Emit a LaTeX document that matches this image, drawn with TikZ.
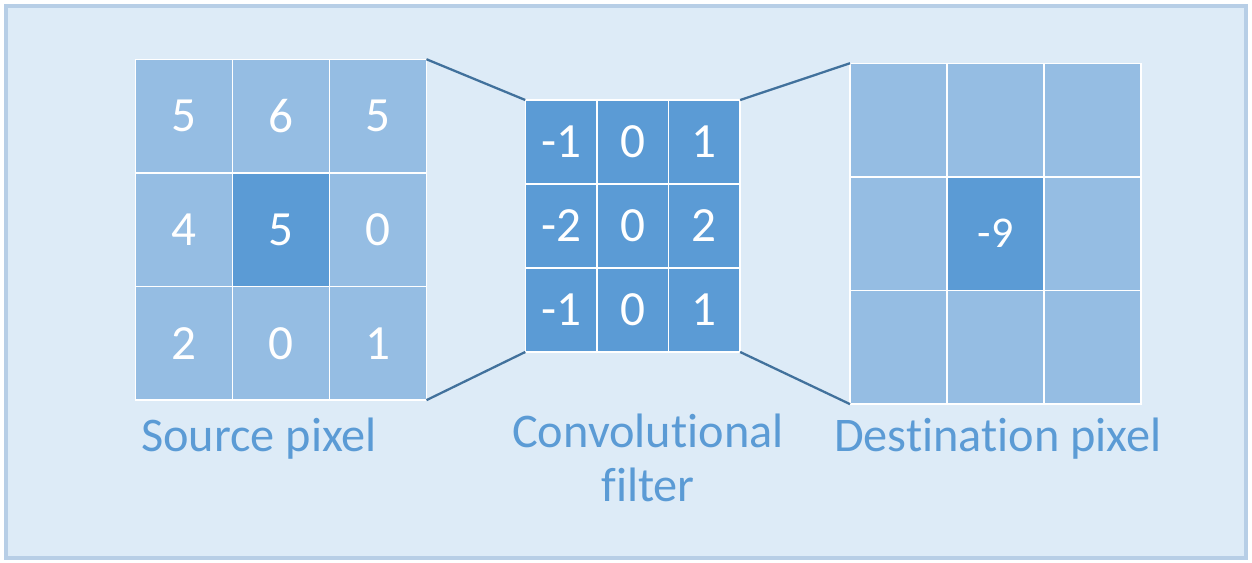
\documentclass[tikz,border=0pt]{standalone}
\usepackage{fontspec}
\setmainfont{Carlito}[Ligatures={NoCommon}]
\usepackage{xcolor}
\usepackage{tikz}
\usetikzlibrary{shadows}

\definecolor{paleblue}{HTML}{DDEBF7}
\definecolor{edgeblue}{HTML}{B7CEE6}
\definecolor{lightcell}{HTML}{95BDE3}
\definecolor{darkcell}{HTML}{5B9BD5}
\definecolor{linkblue}{HTML}{41719C}

\tikzset{
    frame/.style={fill=paleblue, draw=edgeblue, line width=2.5pt},
    cell/.style={draw=white, line width=0.8pt, inner sep=0pt, outer sep=0pt,
        text=white, font=\fontsize{28}{30}\selectfont},
    srccell/.style={cell, minimum width=1.94cm, minimum height=2.27cm},
    fltcell/.style={cell, fill=darkcell, minimum width=1.43cm, minimum height=1.68cm},
    link/.style={draw=linkblue, line width=1.3pt},
    caption/.style={text=darkcell, font=\fontsize{27.5}{31}\selectfont, align=center}
}

\begin{document}
\begin{tikzpicture}[x=0.02cm, y=-0.02cm]
                \useasboundingbox (0,0) rectangle (1252,563);

                % Draw the outer panel
                \draw[frame] (6,6) rectangle (1246,558);

                % Draw the source pixel grid
                \foreach \r/\c/\v/\f in {1/1/5/lightcell, 1/2/6/lightcell, 1/3/5/lightcell,
                                         2/1/4/lightcell, 2/2/5/darkcell,  2/3/0/lightcell,
                                         3/1/2/lightcell, 3/2/0/lightcell, 3/3/1/lightcell}
                    \node[srccell, fill=\f] (S\r\c) at ({184+(\c-1)*97}, {116+(\r-1)*113.7}) {\v};

                % Draw the convolutional filter grid
                \foreach \r/\c/\v in {1/1/-1, 1/2/0, 1/3/1,
                                      2/1/-2, 2/2/0, 2/3/2,
                                      3/1/-1, 3/2/0, 3/3/1}
                    \node[fltcell] (F\r\c) at ({561+(\c-1)*71.7}, {142+(\r-1)*84}) {\v};

                % Draw the destination pixel grid
                \foreach \r/\c/\v/\f in {1/1//lightcell, 1/2//lightcell, 1/3//lightcell,
                                         2/1//lightcell, 2/2/-9/darkcell, 2/3//lightcell,
                                         3/1//lightcell, 3/2//lightcell, 3/3//lightcell}
                    \node[srccell, fill=\f, font=\fontsize{25}{28}\selectfont] (D\r\c) at ({898.5+(\c-1)*97}, {120+(\r-1)*113.7}) {\v};

                % Connect the grids
                \draw[link] (S13.north east) -- (F11.north west);
                \draw[link] (S33.south east) -- (F31.south west);
                \draw[link] (F13.north east) -- (D11.north west);
                \draw[link] (F33.south east) -- (D31.south west);

                % Captions under the grids
                \node[caption, anchor=base] (srclabel) at (259,452) {Source pixel};
                \node[caption, anchor=base] (fltlabel) at (648,502) {Convolutional\\filter};
                \node[caption, anchor=base] (dstlabel) at (998,452) {Destination pixel};
            \end{tikzpicture}
\end{document}
